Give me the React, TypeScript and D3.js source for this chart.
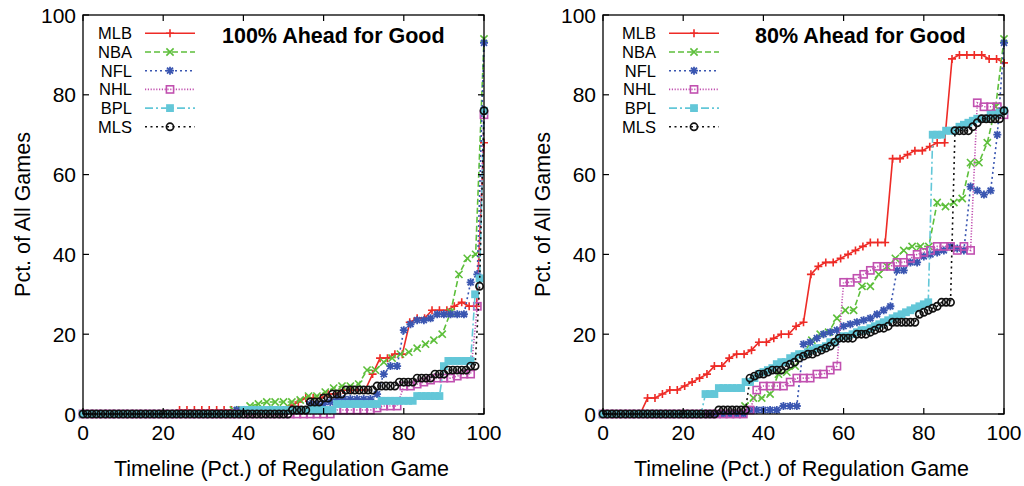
import React from 'react'
import { scaleLinear, line } from 'd3'

const leagues = ['MLB', 'NBA', 'NFL', 'NHL', 'BPL', 'MLS']
const colors = ['#ee2b26', '#5dbf3b', '#3a56b1', '#c150b0', '#63c7d8', '#111111']
const dashes = ['none', '6,3', '2,3', '1.2,1.6', '8,3,2,3', '2,3.5']
const markers = ['plus', 'cross', 'star', 'square', 'filled', 'circle']
// samples per game for each league (outs, minutes ...), x = i / periods * 100
const periods = [54, 48, 60, 60, 90, 90]
const xTicks = [0, 20, 40, 60, 80, 100]
const yTicks = [0, 20, 40, 60, 80, 100]

// 100% ahead for good
const mlb100 = [0,0,0,0,0,0,0,0,0,0,0,0,0,1,1,1,1,1,1,1,1,1,1,1,1,1,1,1,2,3,4,4,4,5,5,6,6,6,6,10,14,14,15,15,23,24,24,26,26,26,27,28,27,27,68]
const nba100 = [0,0,0,0,0,0,0,0,0,0,0,0,0,0,0,0,0,0,1,1,2,2.5,3,3,3,3,3.5,4.5,4.5,5.5,6.5,7,7,7.5,11,11,13,14,15,15.5,16.5,17.5,18.5,20,25.5,35,39,40,94]
const nfl100 = [0,0,0,0,0,0,0,0,0,0,0,0,0,0,0,0,0,0,0,0,0,0,0,1,1,1,1,1,1,1,1,1,1,1,2.5,2.5,2.5,3,3.75,3.75,3.75,3.75,3.75,3.75,5,10,12,12,21,22.5,23.5,23.5,24,25,25,25,25,25,33,35,93]
const nhl100 = [0,0,0,0,0,0,0,0,0,0,0,0,0,0,0,0,0,0,0,0,0,0,0,0,0,0,0,0,0,0,0,0,0,0,0,0,0,0,1,1,1,1,1,1,1.5,2,2,2,7,7,7.5,8,8.5,9,9,9,9.5,10,10,27,75]
const bpl100 = [0,0,0,0,0,0,0,0,0,0,0,0,0,0,0,0,0,0,0,0,0,0,0,0,0,0,0,0,0,0,0,0,0,0,0,0,1,1,1,1,1,1,1,1,1,1,1,1,1,1,1,1,1,1,1,1,1,2.5,2.5,2.5,2.5,2.5,2.5,2.5,2.5,2.5,2.5,3.3,3.3,3.3,3.3,3.3,3.3,3.3,3.3,4.5,4.5,4.5,4.5,4.5,4.5,12,13.3,13.3,13.3,13.3,13.3,13.3,30,34,76]
const mls100 = [0,0,0,0,0,0,0,0,0,0,0,0,0,0,0,0,0,0,0,0,0,0,0,0,0,0,0,0,0,0,0,0,0,0,0,0,0,0,0,0,0,0,0,0,0,0,0,1,1,1,1,3,3,3,4,4,5,5,5,6,6,6,6,6,6,6,7,7,7,7,7,8,8,8,8,9,9,9,9,10,10,10,11,11,11,11,11,12,12,32,76]

// 80% ahead for good
const mlb80 = [0,0,0,0,0,0,4,4,5,6,6,7,8,9,10,12,12,14,15,15,16,18,18,19,20,20,22,23,35,37,38,38,39,40,41,42,43,43,43,64,64,65,66,66,67,68,68,89,90,90,90,90,89,89,88]
const nba80 = [0,0,0,0,0,0,0,0,0,0,0,0,0,0,0,0,0,2,4,4,5,10,10.5,12,15,18.5,20,20.5,24,26,26,32,32,35,37,39,41,42,42,42,53,52,53,54,63,63,68,77,94]
const nfl80 = [0,0,0,0,0,0,0,0,0,0,0,0,0,0,0,0,0,0,0,0,0,0,1,1,1,1,1,2,2,2,17.5,18,19,20,20.5,21,22,22.5,23,23.5,24,25,26,27,36,36,38,38,39.5,40,40.5,41,42,41.5,41,57,56,55,56,70,93]
const nhl80 = [0,0,0,0,0,0,0,0,0,0,0,0,0,0,0,0,0,0,0,0,0,0,1,6,7,7,7,7,8,9,9,9,10,10,11,12,33,33,34,35,36,37,37,37,38,38,39,40,40.5,41,42,42,42,41,42,41,78,77,77,77,75]
const bpl80 = [0,0,0,0,0,0,0,0,0,0,0,0,0,0,0,0,0,0,0,0,0,0,0,5,5,5,6.5,6.5,6.5,6.5,6.5,6.5,8,8,9,10,10.5,11,11.5,12.5,13,13,14,14.5,15,15,15.5,16,16.5,16.5,17,18,18,19,19.5,19.5,20,20.5,21,21,21.5,22,22.5,23,23.5,24,24.5,25,25.5,26,26.5,27,27.5,28,70,70,70,71,71,71,72,72.5,73,73.5,74,74,74,75,75,75.5,76]
const mls80 = [0,0,0,0,0,0,0,0,0,0,0,0,0,0,0,0,0,0,0,0,0,0,0,0,0,0,1,1,1,1,1,1,1,9,9.5,10,10,10.5,11,11,11,12,12.5,13,14,14.5,15,15,15.5,16,16.5,17,18,19,19,19,19,20,20,20,20.5,21,21.5,21.5,22,23,23,23,23,23,23,25,25.5,26,26.5,27,28,28,28,71,71,71,71,72,73,74,74,74,74,74,76]

const font = '"Liberation Sans", Arial, Helvetica, sans-serif'

function Marker({ type, x, y, color }) {
  const s = 3.6
  if (type === 'plus') {
    return <path d={`M${x - 4},${y}H${x + 4}M${x},${y - 4}V${y + 4}`} stroke={color} strokeWidth={1.6} fill="none" />
  }
  if (type === 'cross') {
    return <path d={`M${x - s},${y - s}L${x + s},${y + s}M${x - s},${y + s}L${x + s},${y - s}`} stroke={color} strokeWidth={1.6} fill="none" />
  }
  if (type === 'star') {
    return <path d={`M${x - 4},${y}H${x + 4}M${x},${y - 4}V${y + 4}M${x - 3},${y - 3}L${x + 3},${y + 3}M${x - 3},${y + 3}L${x + 3},${y - 3}`} stroke={color} strokeWidth={1.8} fill="none" />
  }
  if (type === 'square') {
    return <rect x={x - s} y={y - s} width={2 * s} height={2 * s} stroke={color} strokeWidth={1.6} fill="none" />
  }
  if (type === 'filled') {
    return <rect x={x - 3.9} y={y - 3.9} width={7.8} height={7.8} fill={color} />
  }
  return <circle cx={x} cy={y} r={3.6} stroke={color} strokeWidth={1.7} fill="none" />
}

function Panel({ left, title, titleX, legendEnd, data }) {
  const x = scaleLinear().domain([0, 100]).range([left, left + 401])
  const y = scaleLinear().domain([0, 100]).range([414, 15])
  const top = y(100)
  const bottom = y(0)
  const right = x(100)

  return (
    <g fontFamily={font}>
      {data.map((vals, k) => {
        const n = periods[k]
        const pts = vals.map((v, i) => [x((i / n) * 100), y(v)])
        const path = line()(pts)
        return (
          <g key={leagues[k]}>
            <path d={path} fill="none" stroke={colors[k]} strokeWidth={1.6} strokeDasharray={dashes[k]} />
            {pts.map((p, i) => (
              <Marker key={i} type={markers[k]} x={p[0]} y={p[1]} color={colors[k]} />
            ))}
          </g>
        )
      })}

      {/* frame */}
      <rect x={left} y={top} width={right - left} height={bottom - top} fill="none" stroke="#000" strokeWidth={1.3} />
      {xTicks.map(t => (
        <g key={'x' + t}>
          <line x1={x(t)} x2={x(t)} y1={bottom} y2={bottom - 6} stroke="#000" strokeWidth={1.2} />
          <line x1={x(t)} x2={x(t)} y1={top} y2={top + 6} stroke="#000" strokeWidth={1.2} />
          <text x={x(t)} y={bottom + 26} textAnchor="middle" fontSize={21}>{t}</text>
        </g>
      ))}
      {yTicks.map(t => (
        <g key={'y' + t}>
          <line x1={left} x2={left + 6} y1={y(t)} y2={y(t)} stroke="#000" strokeWidth={1.2} />
          <line x1={right} x2={right - 6} y1={y(t)} y2={y(t)} stroke="#000" strokeWidth={1.2} />
          <text x={left - 7} y={y(t) + 7.5} textAnchor="end" fontSize={21}>{t}</text>
        </g>
      ))}

      {/* legend */}
      {leagues.map((name, k) => {
        const ly = 33.3 + k * 18.7
        const x0 = left + legendEnd + 13
        return (
          <g key={'leg' + name}>
            <text x={left + legendEnd} y={ly + 6} textAnchor="end" fontSize={16.5}>{name}</text>
            <line x1={x0} x2={x0 + 50} y1={ly} y2={ly} stroke={colors[k]} strokeWidth={1.6} strokeDasharray={dashes[k]} />
            <Marker type={markers[k]} x={x0 + 25} y={ly} color={colors[k]} />
          </g>
        )
      })}

      <text x={titleX} y={43} fontSize={21.5} fontWeight="bold">{title}</text>
      <text transform={`translate(${left - 53},${(top + bottom) / 2}) rotate(-90)`} textAnchor="middle" fontSize={21.5}>Pct. of All Games</text>
      <text x={(left + right) / 2 - 2} y={476} textAnchor="middle" fontSize={21.5}>Timeline (Pct.) of Regulation Game</text>
    </g>
  )
}

export default function App() {
  return (
    <svg width={1024} height={486} style={{ position: 'absolute', left: 0, top: 0, background: '#fff' }}>
      <rect width={1024} height={486} fill="#fff" />
      <Panel left={83} title="100% Ahead for Good" titleX={222} legendEnd={49}
        data={[mlb100, nba100, nfl100, nhl100, bpl100, mls100]} />
      <Panel left={603} title="80% Ahead for Good" titleX={755} legendEnd={53}
        data={[mlb80, nba80, nfl80, nhl80, bpl80, mls80]} />
    </svg>
  )
}
